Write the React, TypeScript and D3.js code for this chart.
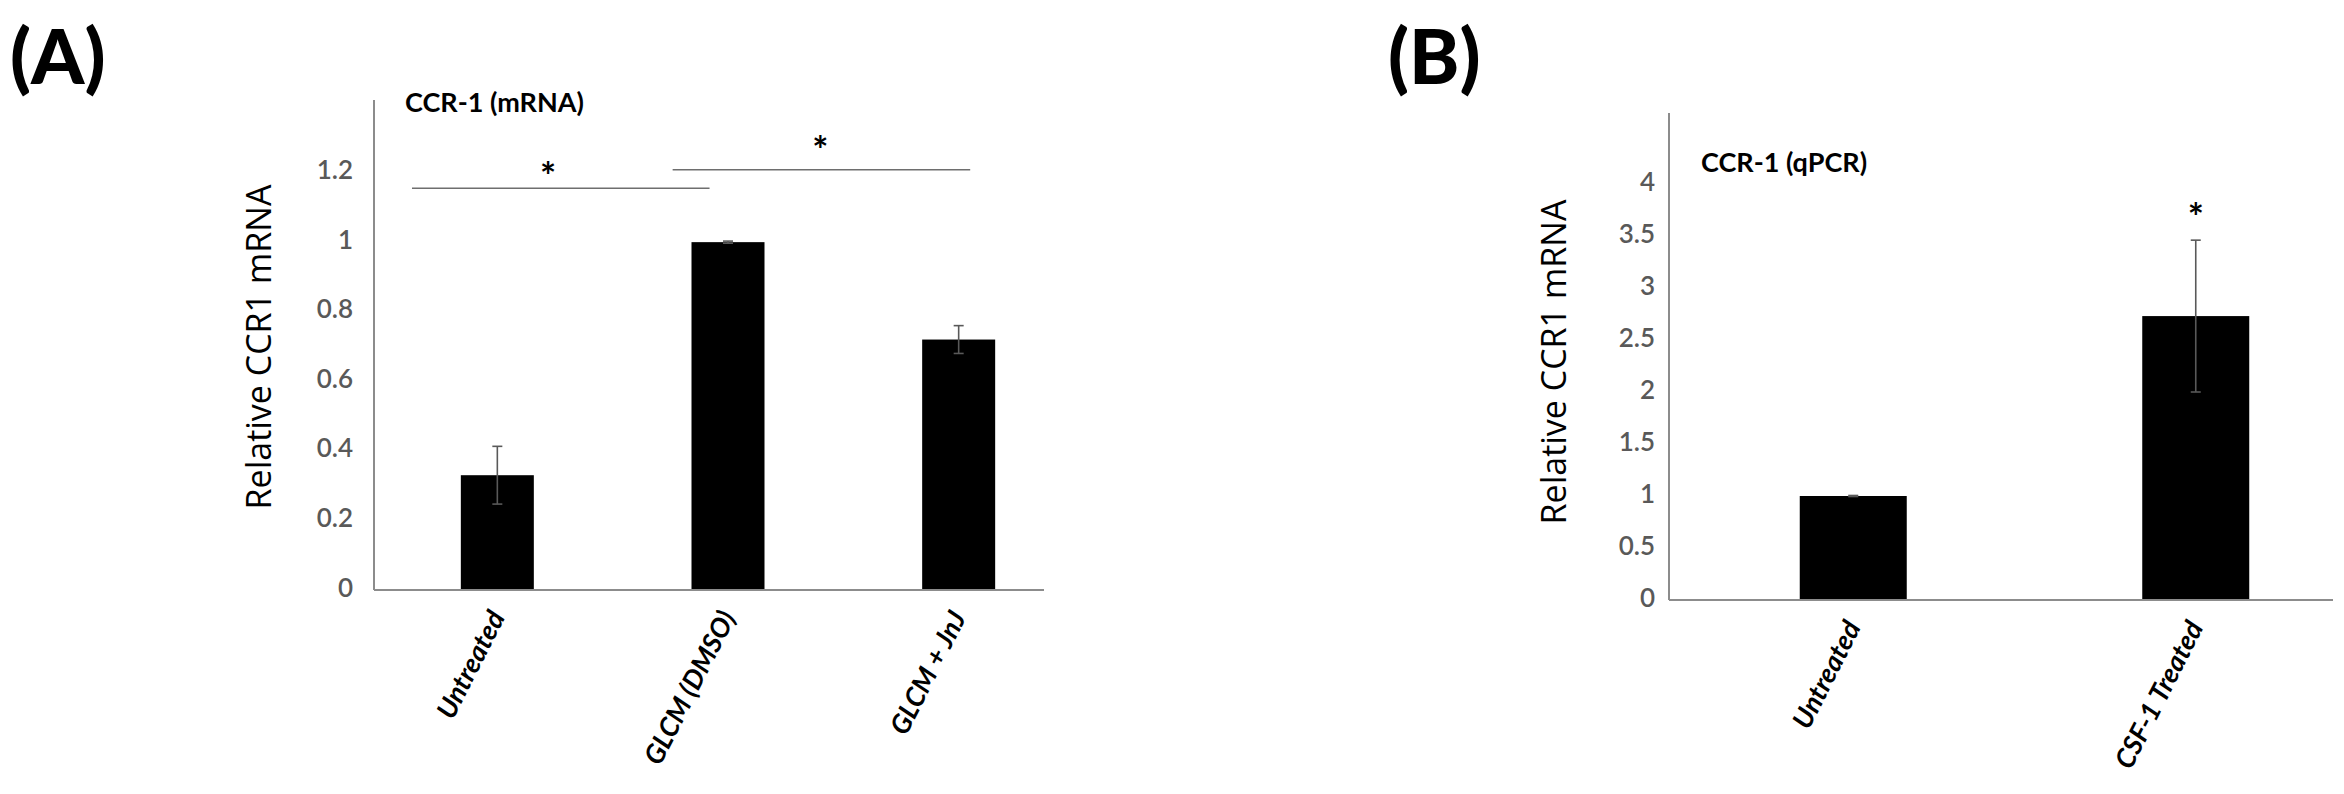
import React, { useRef, useEffect } from 'react';
import * as d3 from 'd3';

// Panel A – CCR-1 (mRNA)
const catsA = ['Untreated', 'GLCM (DMSO)', 'GLCM + JnJ'];
const valuesA = [0.33, 1.0, 0.72];
const errorsA = [0.083, 0.003, 0.04];
const ticksA = [0, 0.2, 0.4, 0.6, 0.8, 1, 1.2];
// significance bars: category-index span, level, star position
const sigA = [
  { x0: -0.37, x1: 0.92, level: 1.155, starX: 0.22, starY: 1.195 },
  { x0: 0.76, x1: 2.05, level: 1.208, starX: 1.4, starY: 1.27 },
];

// Panel B – CCR-1 (qPCR)
const catsB = ['Untreated', 'CSF-1 Treated'];
const valuesB = [1.0, 2.73];
const errorsB = [0.005, 0.73];
const ticksB = [0, 0.5, 1, 1.5, 2, 2.5, 3, 3.5, 4];
const sigB = [{ starX: 1, starY: 3.7 }];

const W = 2344;
const H = 794;

const narrow = "Lato, 'Open Sans', sans-serif";
const plain = "'Open Sans', 'DejaVu Sans', sans-serif";

function drawPanel(svg, cfg) {
  const { cats, values, errors, ticks, sig, frame, yMax, title, letter, tickOffset, yTitle } = cfg;

  const x = d3.scaleLinear()
    .domain([-0.5, cats.length - 0.5])
    .range(frame.xRange);
  const y = d3.scaleLinear()
    .domain([0, yMax])
    .range([frame.bottom, frame.yTop]);

  const g = svg.append('g');

  // panel letter
  g.append('text')
    .attr('x', letter.x)
    .attr('y', letter.y)
    .attr('font-family', narrow)
    .attr('font-weight', 900)
    .attr('font-size', 76)
    .attr('fill', '#000')
    .text(letter.text);

  // chart title
  g.append('text')
    .attr('x', title.x)
    .attr('y', title.y)
    .attr('dominant-baseline', 'middle')
    .attr('font-family', narrow)
    .attr('font-weight', 'bold')
    .attr('font-size', 27)
    .attr('fill', '#000')
    .text(title.text);

  // y axis title
  g.append('text')
    .attr('transform', `translate(${yTitle.x}, ${yTitle.y}) rotate(-90)`)
    .attr('text-anchor', 'middle')
    .attr('dominant-baseline', 'middle')
    .attr('font-family', plain)
    .attr('font-size', 34)
    .attr('fill', '#000')
    .text('Relative CCR1 mRNA');

  // tick labels
  g.selectAll('.tick-label')
    .data(ticks)
    .enter()
    .append('text')
    .attr('x', frame.left - tickOffset)
    .attr('y', d => y(d))
    .attr('text-anchor', 'end')
    .attr('dominant-baseline', 'middle')
    .attr('font-family', narrow)
    .attr('font-weight', 600)
    .attr('font-size', 26)
    .attr('fill', '#595959')
    .text(d => d3.format('~g')(d));

  // bars
  const barW = frame.barW;
  g.selectAll('.bar')
    .data(values)
    .enter()
    .append('rect')
    .attr('x', (d, i) => x(i) - barW / 2)
    .attr('y', d => y(d))
    .attr('width', barW)
    .attr('height', d => y(0) - y(d))
    .attr('fill', '#000');

  // axes lines
  g.append('line')
    .attr('x1', frame.left).attr('x2', frame.left)
    .attr('y1', frame.top).attr('y2', y(0))
    .attr('stroke', '#8c8c8c').attr('stroke-width', 2);
  g.append('line')
    .attr('x1', frame.left).attr('x2', frame.right)
    .attr('y1', y(0)).attr('y2', y(0))
    .attr('stroke', '#8c8c8c').attr('stroke-width', 2);

  // error bars
  const cap = 5;
  values.forEach((v, i) => {
    const cx = x(i);
    const e = errors[i];
    const eg = g.append('g').attr('stroke', '#595959').attr('stroke-width', 1.6);
    eg.append('line').attr('x1', cx).attr('x2', cx).attr('y1', y(v - e)).attr('y2', y(v + e));
    eg.append('line').attr('x1', cx - cap).attr('x2', cx + cap).attr('y1', y(v + e)).attr('y2', y(v + e));
    eg.append('line').attr('x1', cx - cap).attr('x2', cx + cap).attr('y1', y(v - e)).attr('y2', y(v - e));
  });

  // significance lines and stars
  sig.forEach(s => {
    if (s.x0 !== undefined) {
      g.append('line')
        .attr('x1', x(s.x0)).attr('x2', x(s.x1))
        .attr('y1', y(s.level)).attr('y2', y(s.level))
        .attr('stroke', '#6e6e6e').attr('stroke-width', 1.6);
    }
    g.append('text')
      .attr('x', x(s.starX))
      .attr('y', y(s.starY) + 16)
      .attr('text-anchor', 'middle')
      .attr('font-family', narrow)
      .attr('font-weight', 'bold')
      .attr('font-size', 38)
      .attr('fill', '#000')
      .text('*');
  });

  // category labels
  g.selectAll('.cat')
    .data(cats)
    .enter()
    .append('text')
    .attr('transform', (d, i) => `translate(${x(i) + 2}, ${y(0) + 24}) rotate(-63)`)
    .attr('text-anchor', 'end')
    .attr('dominant-baseline', 'middle')
    .attr('font-family', narrow)
    .attr('font-weight', 'bold')
    .attr('font-style', 'italic')
    .attr('font-size', 27)
    .attr('fill', '#000')
    .text(d => d);
}

export default function App() {
  const svgRef = useRef(null);

  useEffect(() => {
    const svg = d3.select(svgRef.current);
    svg.selectAll('*').remove();

    drawPanel(svg, {
      cats: catsA, values: valuesA, errors: errorsA, ticks: ticksA, sig: sigA,
      frame: { left: 374, right: 1044, top: 100, bottom: 590, yTop: 103, xRange: [382, 1074], barW: 73 },
      yMax: 1.4,
      title: { x: 405, y: 105, text: 'CCR-1 (mRNA)' },
      letter: { x: 10, y: 84, text: '(A)' },
      tickOffset: 21,
      yTitle: { x: 262, y: 347 },
    });

    drawPanel(svg, {
      cats: catsB, values: valuesB, errors: errorsB, ticks: ticksB, sig: sigB,
      frame: { left: 1669, right: 2333, top: 113, bottom: 600, yTop: 132, xRange: [1682, 2367], barW: 107 },
      yMax: 4.5,
      title: { x: 1701, y: 165, text: 'CCR-1 (qPCR)' },
      letter: { x: 1388, y: 84, text: '(B)' },
      tickOffset: 14,
      yTitle: { x: 1557, y: 362 },
    });
  }, []);

  return (
    <>
      <style>{'body{margin:0}'}</style>
      <svg ref={svgRef} width={W} height={H} viewBox={`0 0 ${W} ${H}`} style={{ display: 'block', background: '#fff' }} />
    </>
  );
}
